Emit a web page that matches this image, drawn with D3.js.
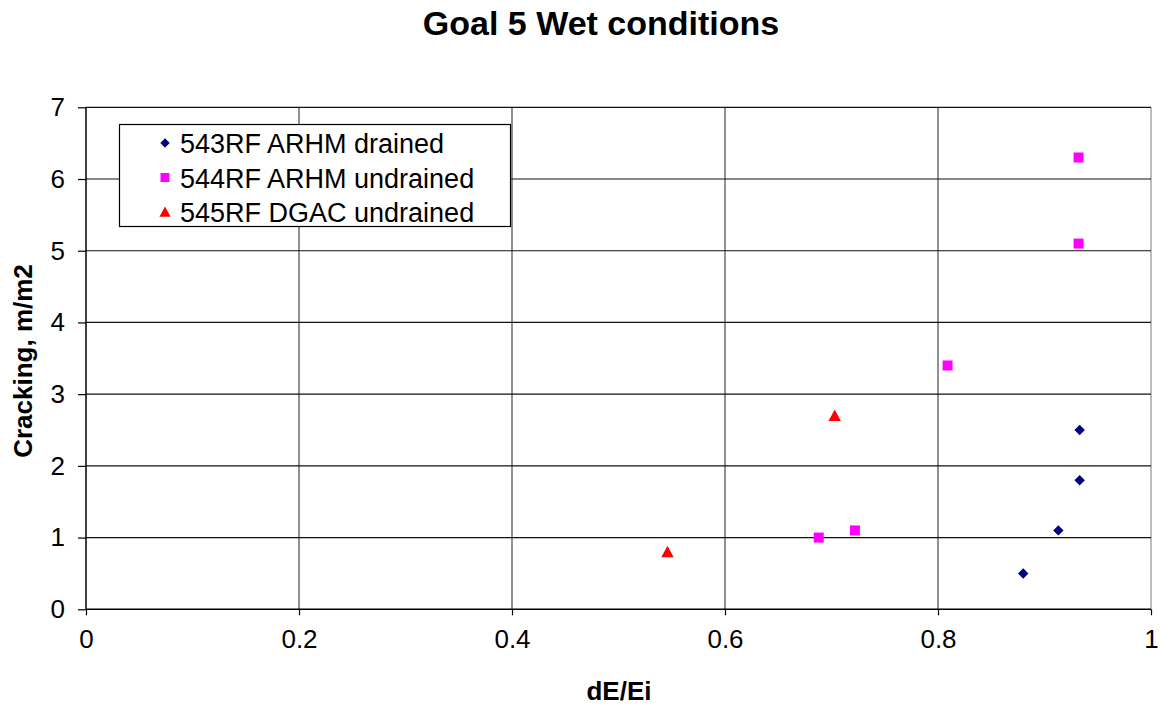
<!DOCTYPE html>
<html><head><meta charset="utf-8">
<script src="https://cdn.jsdelivr.net/npm/d3@7"></script>
<style>body{margin:0;background:#fff;} text{font-family:Arial,"Liberation Sans",sans-serif;}</style>
</head><body>
<svg id="c" width="1161" height="709"></svg>
<script>
const title = "Goal 5 Wet conditions";
const xLabel = "dE/Ei";
const yLabel = "Cracking, m/m2";
const xTicks = [0, 0.2, 0.4, 0.6, 0.8, 1];
const yTicks = [0, 1, 2, 3, 4, 5, 6, 7];
const seriesNames = ["543RF ARHM drained", "544RF ARHM undrained", "545RF DGAC undrained"];
const s1x = [0.880, 0.913, 0.933, 0.933];
const s1y = [0.5, 1.1, 1.8, 2.5];
const s2x = [0.688, 0.722, 0.809, 0.932, 0.932];
const s2y = [1.0, 1.1, 3.4, 5.1, 6.3];
const s3x = [0.546, 0.703];
const s3y = [0.8, 2.7];
const colors = ["#000080", "#FF00FF", "#FF0000"];

const svg = d3.select("#c");
const L = 86, R = 1151, T = 107.3, B = 609.3;
const x = d3.scaleLinear().domain([0, 1]).range([L, R]);
const y = d3.scaleLinear().domain([0, 7]).range([B, T]);

// custom marker shapes (size = half-width)
const diamond = { draw(ctx, r) { ctx.moveTo(0, -r); ctx.lineTo(r, 0); ctx.lineTo(0, r); ctx.lineTo(-r, 0); ctx.closePath(); } };
const square = { draw(ctx, r) { ctx.rect(-r, -r, 2 * r, 2 * r); } };
const triangle = { draw(ctx, r) { ctx.moveTo(0, -r); ctx.lineTo(r, r * 0.85); ctx.lineTo(-r, r * 0.85); ctx.closePath(); } };
const sym = [diamond, square, triangle];
const sizes = [5.2, 5, 6.2];

// gridlines
svg.append("g").selectAll("line").data(xTicks.slice(1)).join("line")
  .attr("x1", d => x(d)).attr("x2", d => x(d)).attr("y1", T).attr("y2", B)
  .attr("stroke", d => d === 1 ? "#999" : "#555").attr("stroke-width", 1.3);
svg.append("g").selectAll("line").data(yTicks.slice(1)).join("line")
  .attr("x1", L).attr("x2", R).attr("y1", d => y(d)).attr("y2", d => y(d))
  .attr("stroke", "#111").attr("stroke-width", 1.2);

// axes
const xAxis = d3.axisBottom(x).tickValues(xTicks).tickSize(6).tickPadding(14).tickFormat(d => String(d));
const gx = svg.append("g").attr("transform", `translate(0,${B})`).call(xAxis);
const yAxis = d3.axisLeft(y).tickValues(yTicks).tickSize(8).tickPadding(13).tickFormat(d => String(d));
const gy = svg.append("g").attr("transform", `translate(${L},0)`).call(yAxis);
[gx, gy].forEach(g => {
  g.select(".domain").attr("stroke", "#000").attr("stroke-width", 1.5);
  g.selectAll(".tick line").attr("stroke", "#000").attr("stroke-width", 1.2);
  g.selectAll(".tick text").attr("font-size", 26).attr("fill", "#000")
    .attr("font-family", "Arial, 'Liberation Sans', sans-serif");
});
gx.select(".domain").attr("d", `M${L},0H${R}`);
gy.select(".domain").attr("d", `M0,${B}V${T}`);

// markers
const data = [
  s1x.map((v, i) => [v, s1y[i]]),
  s2x.map((v, i) => [v, s2y[i]]),
  s3x.map((v, i) => [v, s3y[i]])
];
data.forEach((pts, si) => {
  svg.append("g").selectAll("path").data(pts).join("path")
    .attr("transform", d => `translate(${x(d[0])},${y(d[1])})`)
    .attr("d", d3.symbol().type(sym[si]).size(sizes[si]))
    .attr("fill", colors[si]);
});

// legend
const lg = svg.append("g");
lg.append("rect").attr("x", 119.5).attr("y", 124.5).attr("width", 391).attr("height", 102)
  .attr("fill", "#fff").attr("stroke", "#000").attr("stroke-width", 1.2);
seriesNames.forEach((n, i) => {
  const cy = 143 + i * 34.5;
  lg.append("path").attr("transform", `translate(165,${cy})`)
    .attr("d", d3.symbol().type(sym[i]).size(sizes[i] * 0.9)).attr("fill", colors[i]);
  lg.append("text").attr("x", 180).attr("y", cy + 10).attr("font-size", 27).text(n);
});

// titles
svg.append("text").attr("x", 601).attr("y", 35).attr("text-anchor", "middle")
  .attr("font-size", 34).attr("font-weight", "bold").text(title);
svg.append("text").attr("x", 619).attr("y", 700).attr("text-anchor", "middle")
  .attr("font-size", 26).attr("font-weight", "bold").text(xLabel);
svg.append("text").attr("transform", "translate(32,361) rotate(-90)").attr("text-anchor", "middle")
  .attr("font-size", 26).attr("font-weight", "bold").text(yLabel);
</script>
</body></html>
